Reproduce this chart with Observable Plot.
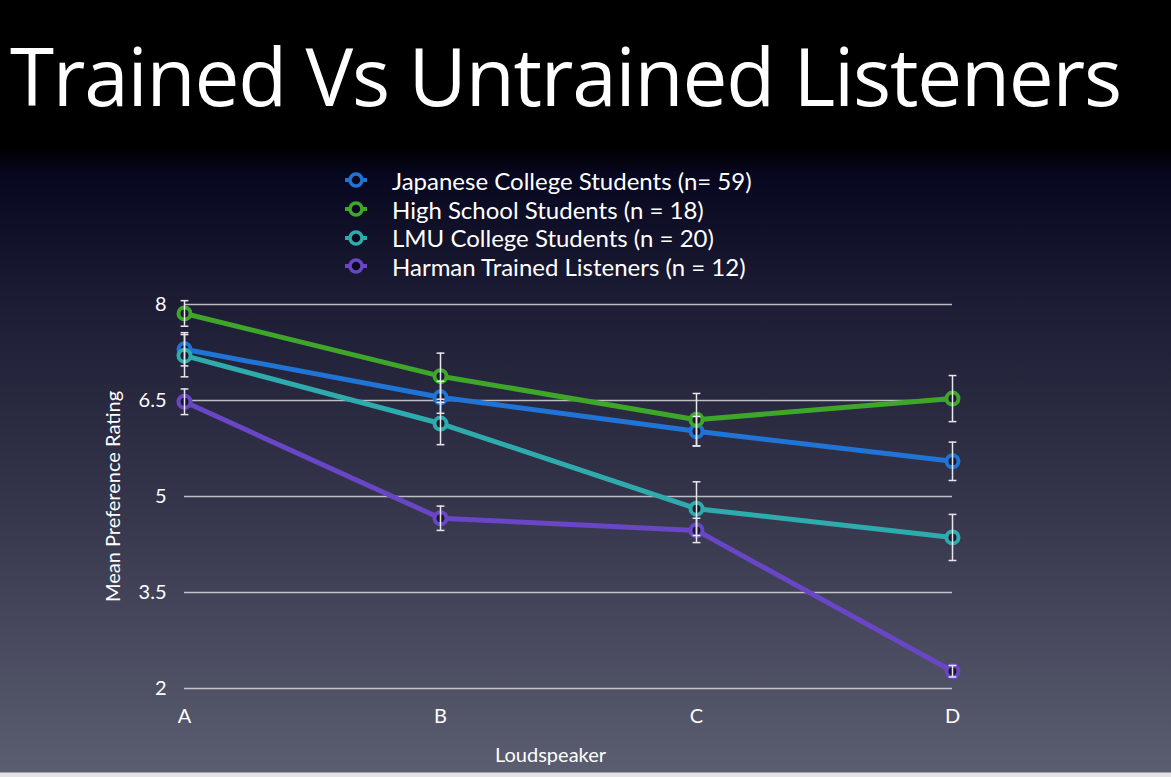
<!DOCTYPE html>
<html>
<head>
<meta charset="utf-8">
<script src="https://cdn.jsdelivr.net/npm/d3@7"></script>
<script src="https://cdn.jsdelivr.net/npm/@observablehq/plot@0.6"></script>
<style>
  html, body { margin: 0; padding: 0; }
  body {
    width: 1171px; height: 777px; overflow: hidden; position: relative;
    background: linear-gradient(to bottom, #000 0px, #000 148px, #070720 175px, #1c1c34 300px, #34354b 500px, #5b5d70 772px, #e4e4e6 773px, #e4e4e6 777px);
    font-family: Lato, "Open Sans", sans-serif;
  }
  #title {
    position: absolute; left: 10px; top: 20px; height: 128px;
    color: #fff; font-family: "Open Sans", sans-serif; font-size: 80px; line-height: 110px;
    white-space: nowrap; letter-spacing: -1.2px;
  }
  #legend {
    position: absolute; left: 344px; top: 166px; color: #fff; font-family: Lato, sans-serif;
    font-size: 24px;
  }
  #legend .row { display: flex; align-items: center; height: 28.7px; }
  #legend svg { margin-right: 24px; }
  #chart { position: absolute; left: 0; top: 288px; }
</style>
</head>
<body>
<div id="title">Trained Vs Untrained Listeners</div>
<div id="legend"></div>
<div id="chart"></div>
<script>
const loudspeakers = ["A", "B", "C", "D"];
const seriesNames = [
  "Japanese College Students (n= 59)",
  "High School Students (n = 18)",
  "LMU College Students (n = 20)",
  "Harman Trained Listeners (n = 12)"
];
const seriesColors = ["#1f74d6", "#3ea72a", "#2eabad", "#6946c6"];
const japaneseMeans = [7.30, 6.55, 6.02, 5.55];
const highSchoolMeans = [7.86, 6.88, 6.20, 6.53];
const lmuMeans = [7.20, 6.14, 4.81, 4.36];
const harmanMeans = [6.48, 4.66, 4.47, 2.27];
const japaneseErr = [0.26, 0.25, 0.23, 0.30];
const highSchoolErr = [0.20, 0.36, 0.41, 0.36];
const lmuErr = [0.33, 0.33, 0.42, 0.36];
const harmanErr = [0.20, 0.19, 0.19, 0.09];
const yTicks = [2, 3.5, 5, 6.5, 8];

const allMeans = [japaneseMeans, highSchoolMeans, lmuMeans, harmanMeans];
const allErr = [japaneseErr, highSchoolErr, lmuErr, harmanErr];
const data = [];
seriesNames.forEach((s, si) => {
  loudspeakers.forEach((ls, i) => {
    data.push({series: s, ls, mean: allMeans[si][i], lo: allMeans[si][i] - allErr[si][i], hi: allMeans[si][i] + allErr[si][i]});
  });
});

// legend
const legend = document.getElementById("legend");
seriesNames.forEach((s, i) => {
  const row = document.createElement("div");
  row.className = "row";
  row.innerHTML = `<svg width="24" height="20" viewBox="-12 -10 24 20"><line x1="-11" x2="11" y1="0" y2="0" stroke="${seriesColors[i]}" stroke-width="4"/><circle r="6" fill="#0a0a1c" stroke="${seriesColors[i]}" stroke-width="3.5"/></svg><span>${s}</span>`;
  legend.appendChild(row);
});

const capSymbol = {
  draw(context, size) {
    const w = Math.sqrt(size);
    context.moveTo(-w, 0);
    context.lineTo(w, 0);
  }
};

const plot = Plot.plot({
  width: 1171,
  height: 489,
  marginLeft: 184,
  marginRight: 219,
  marginTop: 16,
  marginBottom: 89,
  style: {background: "transparent", color: "#fff", fontFamily: "Lato, sans-serif", fontSize: "20px", overflow: "visible"},
  x: {type: "point", domain: loudspeakers, padding: 0},
  y: {domain: [2, 8], ticks: yTicks},
  color: {domain: seriesNames, range: seriesColors},
  marks: [
    Plot.gridY(yTicks, {stroke: "#d8d8dc", strokeOpacity: 0.85, strokeWidth: 1.5}),
    Plot.axisY(yTicks, {tickSize: 0, tickPadding: 18, fontSize: 20, fill: "#fff", tickFormat: d => String(d),
      label: "Mean Preference Rating", labelAnchor: "center", labelOffset: 79, labelArrow: "none"}),
    Plot.axisX({tickSize: 0, tickPadding: 20, fontSize: 20, fill: "#fff", label: null}),
    Plot.text(["Loudspeaker"], {frameAnchor: "bottom", dx: -18, dy: 73, fill: "#fff", fontSize: 20}),
    Plot.line(data, {x: "ls", y: "mean", z: "series", stroke: "series", strokeWidth: 5, strokeLinejoin: "round"}),
    Plot.dot(data, {x: "ls", y: "mean", stroke: "series", r: 6, strokeWidth: 4, fill: "#1a1a2e"}),
    Plot.ruleX(data, {x: "ls", y1: "lo", y2: "hi", stroke: "#e8e8ec", strokeWidth: 1.5}),
    Plot.dot(data, {x: "ls", y: "lo", symbol: capSymbol, r: 2.2, stroke: "#e8e8ec", strokeWidth: 1.5}),
    Plot.dot(data, {x: "ls", y: "hi", symbol: capSymbol, r: 2.2, stroke: "#e8e8ec", strokeWidth: 1.5})
  ]
});
document.getElementById("chart").appendChild(plot);
</script>
</body>
</html>
